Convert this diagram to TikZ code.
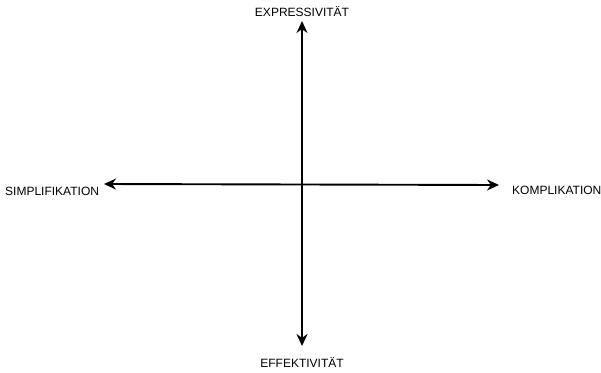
\documentclass[tikz,border=0pt]{standalone}
\usepackage{fontspec}
\setmainfont{Liberation Sans}
\usetikzlibrary{arrows.meta}
\begin{document}
\begin{tikzpicture}[x=1pt,y=-1pt,
  axis/.style={line width=1.9pt,{Stealth[length=12pt,width=11pt]}-{Stealth[length=12pt,width=11pt]}},
  lbl/.style={inner sep=0pt,font=\fontsize{12pt}{14pt}\selectfont}]
\useasboundingbox (0,0) rectangle (601,372);
\coordinate (top) at (302,21);
\coordinate (bot) at (302,346);
\coordinate (left) at (104,184);
\coordinate (right) at (499,185);
\draw[axis] (top) -- (bot);
\draw[axis] (left) -- (right);
\node[lbl] (expr) at (302,12) {EXPRESSIVITÄT};
\node[lbl] (effe) at (302,362) {EFFEKTIVITÄT};
\node[lbl,anchor=west] (simp) at (5,191) {SIMPLIFIKATION};
\node[lbl,anchor=west] (komp) at (512,190) {KOMPLIKATION};
\end{tikzpicture}
\end{document}
